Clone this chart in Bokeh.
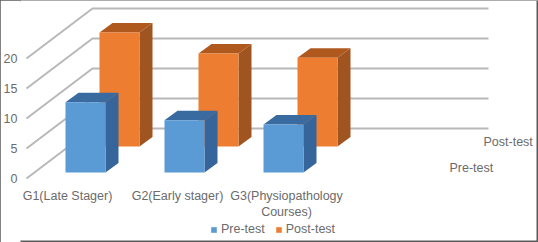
from bokeh.embed import file_html
from bokeh.resources import INLINE
from bokeh.plotting import figure
from bokeh.models import (ColumnDataSource, FixedTicker, Legend, LegendItem, LinearAxis, Range1d)
from bokeh.core.properties import value

categories = ["G1(Late Stager)", "G2(Early stager)", "G3(Physiopathology\nCourses)"]
pre_test = [11.7, 8.7, 8.0]
post_test = [19.0, 15.5, 14.8]
y_ticks = [0, 5, 10, 15, 20]
series_names = ["Pre-test", "Post-test"]

FONT = "Liberation Sans"
TXT = "#6b6b6b"
W, H = 538, 242
FRAME_LEFT = 20
WALL_LEFT = 26
PX = 6.0                         # pixels per value unit
FLOOR = 178                      # front floor, in page pixels
BAR_W, GROUP_STEP, FIRST_BAR = 40, 99, 65
SER_DX, SER_DY = 34, 26 / PX
LIFT = 6 / PX
DEPTH_DX, DEPTH_DY = 13, 9.5 / PX
WALL_DX, WALL_DY = 66, 50 / PX
WALL_END = 488

p = figure(frame_width=W - FRAME_LEFT, frame_height=H, output_backend="svg", toolbar_location=None,
           x_range=Range1d(FRAME_LEFT, W), y_range=Range1d((FLOOR - H) / PX, FLOOR / PX),
           x_axis_location=None, y_axis_location=None,
           min_border_left=FRAME_LEFT, min_border_right=0, min_border_top=0, min_border_bottom=0,
           outline_line_color=None, background_fill_color="white", border_fill_color="white")
p.grid.visible = False
p.styles = {"position": "absolute", "left": "0", "top": "0",
            "outline": "2px solid #5a5a5a", "outline-offset": "-2px"}

# right and bottom edges of the picture's border
edge_y = (FLOOR - (H - 1)) / PX
p.line([W - 1, W - 1, FRAME_LEFT], [FLOOR / PX, edge_y, edge_y], line_color="#5a5a5a", line_width=2)

# walls
for t in y_ticks:
    p.line([WALL_LEFT, WALL_LEFT + WALL_DX, WALL_END], [t, t + WALL_DY, t + WALL_DY],
           line_color="#b8b8b8", line_width=2)


def draw(vals, ser_dx, ser_dy, front, side, top):
    q = dict(l=[], r=[], b=[], t=[])
    sx, sy, tx, ty = [], [], [], []
    for i, v in enumerate(vals):
        l = FIRST_BAR + GROUP_STEP * i + ser_dx
        r = l + BAR_W
        b = LIFT + ser_dy
        t = b + v
        q["l"].append(l); q["r"].append(r); q["b"].append(b); q["t"].append(t)
        sx.append([r, r + DEPTH_DX, r + DEPTH_DX, r])
        sy.append([b, b + DEPTH_DY, t + DEPTH_DY, t])
        tx.append([l, l + DEPTH_DX, r + DEPTH_DX, r])
        ty.append([t, t + DEPTH_DY, t + DEPTH_DY, t])
    p.patches(sx, sy, fill_color=side, line_color=None)
    p.patches(tx, ty, fill_color=top, line_color=None)
    return p.quad(left="l", right="r", bottom="b", top="t", source=ColumnDataSource(q),
                  fill_color=front, line_color=None)


r_post = draw(post_test, SER_DX, SER_DY, "#ED7D31", "#A0541F", "#B0591F")
r_pre = draw(pre_test, 0, 0, "#5B9BD5", "#35659A", "#3A6BA0")

# value axis
ya = LinearAxis(ticker=FixedTicker(ticks=y_ticks), axis_line_color=None, major_tick_line_color=None,
                minor_tick_line_color=None, major_tick_out=0, major_tick_in=0, minor_tick_out=0, minor_tick_in=0,
                major_label_text_font=FONT, major_label_text_font_size="12.5px",
                major_label_text_color=TXT, major_label_standoff=3)
p.add_layout(ya, "left")

# category labels
label_x = [67, 177, 286]
p.text(label_x, [(FLOOR - 188) / PX] * 3, text=categories, text_font=value(FONT), text_font_size="12.5px",
       text_color=TXT, text_align="center", text_baseline="top", text_line_height=1.2)

# series axis labels
p.text([483], [(FLOOR - 141) / PX], text=[series_names[1]], text_font=value(FONT), text_font_size="12.5px",
       text_color=TXT, text_baseline="middle")
p.text([449], [(FLOOR - 167) / PX], text=[series_names[0]], text_font=value(FONT), text_font_size="12.5px",
       text_color=TXT, text_baseline="middle")

legend = Legend(items=[LegendItem(label=series_names[0], renderers=[r_pre]),
                       LegendItem(label=series_names[1], renderers=[r_post])],
                orientation="horizontal", location=(190, 6), border_line_color=None,
                background_fill_color=None, glyph_width=7, glyph_height=7, label_text_font=FONT,
                label_text_font_size="12.5px", label_text_color=TXT, padding=0, margin=0,
                spacing=10, label_standoff=4)
p.add_layout(legend, "center")

open("out.html", "w").write(file_html(p, INLINE))
